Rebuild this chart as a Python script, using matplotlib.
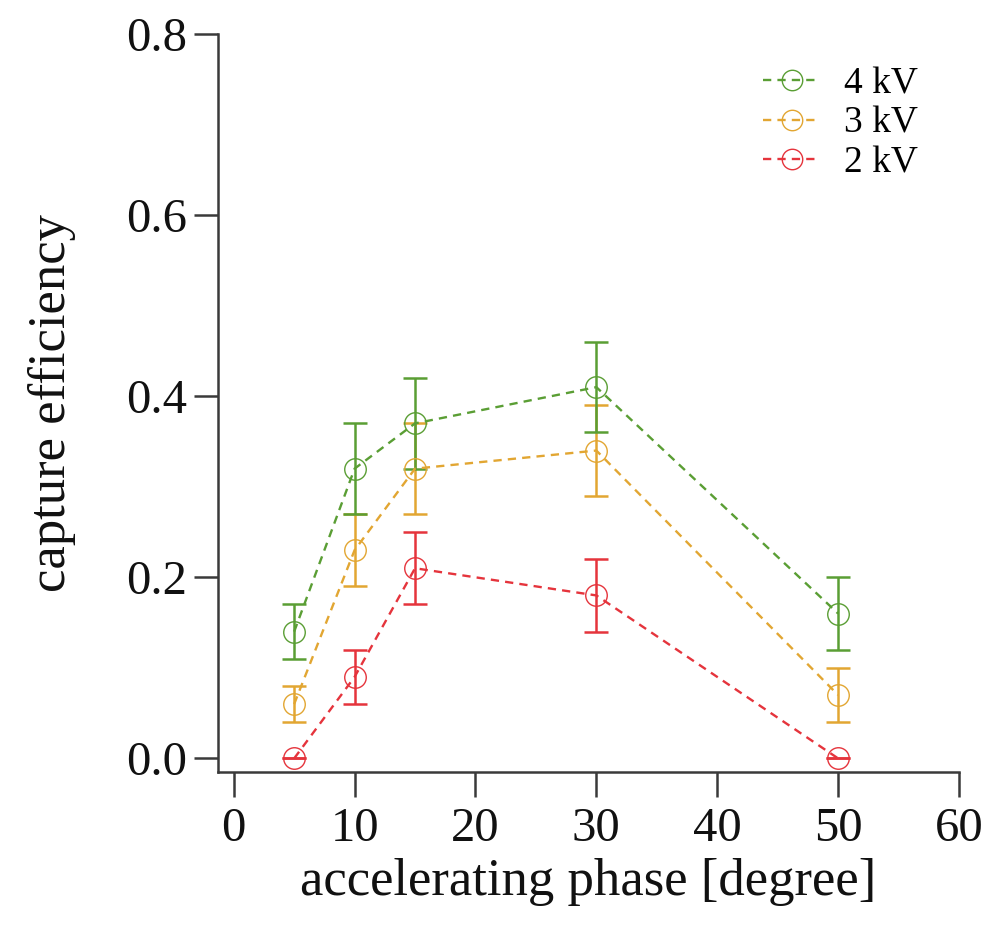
import matplotlib
matplotlib.use("Agg")
import matplotlib.pyplot as plt

# data
phase = [5, 10, 15, 30, 50]
eff_4kv = [0.14, 0.32, 0.37, 0.41, 0.16]
err_4kv = [0.03, 0.05, 0.05, 0.05, 0.04]
eff_3kv = [0.06, 0.23, 0.32, 0.34, 0.07]
err_3kv = [0.02, 0.04, 0.05, 0.05, 0.03]
eff_2kv = [0.00, 0.09, 0.21, 0.18, 0.00]
err_2kv = [0.00, 0.03, 0.04, 0.04, 0.00]

series = [
    ("2 kV", eff_2kv, err_2kv, "#e5343c"),
    ("3 kV", eff_3kv, err_3kv, "#e2a632"),
    ("4 kV", eff_4kv, err_4kv, "#5a9e34"),
]

plt.rcParams["font.family"] = ["Liberation Serif", "DejaVu Serif"]

fig = plt.figure(figsize=(9.91, 9.31), dpi=100)
ax = fig.add_axes([218 / 991, 1 - 772 / 931, (959 - 218) / 991, (772 - 34) / 931])

handles = {}
for name, y, e, c in series:
    ax.errorbar(phase, y, yerr=e, fmt="none", ecolor=c, elinewidth=1.8,
                capsize=8.5, capthick=1.8, zorder=2)
    ln, = ax.plot(phase, y, linestyle=(0, (3.5, 2.6)), color=c, lw=1.7,
                  marker="o", markersize=15.5, markerfacecolor="none",
                  markeredgecolor=c, markeredgewidth=1.0, zorder=3)
    handles[name] = ln

leg = ax.legend([handles["4 kV"], handles["3 kV"], handles["2 kV"]],
                ["4 kV", "3 kV", "2 kV"], frameon=False, loc="upper right",
                bbox_to_anchor=(0.975, 0.986), fontsize=27, handlelength=1.5,
                handletextpad=0.65, labelspacing=0.13, markerscale=0.95,
                borderaxespad=0.2)

ax.set_xlim(-1.3, 60)
ax.set_ylim(-0.015, 0.8)
ax.set_xticks([0, 10, 20, 30, 40, 50, 60])
ax.set_yticks([0.0, 0.2, 0.4, 0.6, 0.8])
ax.set_yticklabels(["0.0", "0.2", "0.4", "0.6", "0.8"])

for s in ["top", "right"]:
    ax.spines[s].set_visible(False)
for s in ["left", "bottom"]:
    ax.spines[s].set_linewidth(1.8)
    ax.spines[s].set_color("#3a3a3a")

ax.tick_params(axis="both", direction="out", length=17, width=1.8,
               color="#3a3a3a", labelsize=35, labelcolor="#111111")
ax.tick_params(axis="x", length=18, pad=7)
ax.tick_params(axis="y", pad=5)

ax.set_xlabel("accelerating phase [degree]", fontsize=38, labelpad=5, color="#111111")
ax.set_ylabel("capture efficiency", fontsize=38, labelpad=36, color="#111111")

fig.savefig("out.png", dpi=100)
